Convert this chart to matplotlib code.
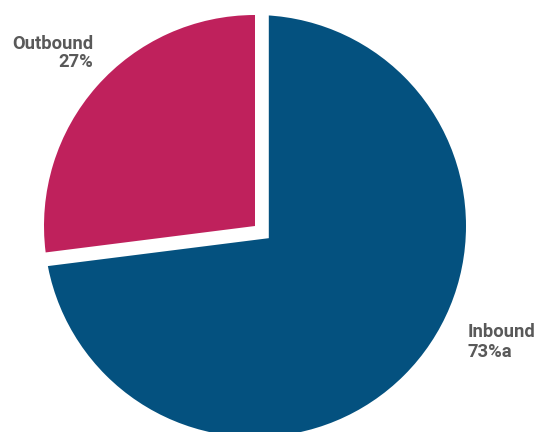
import matplotlib
matplotlib.use("Agg")
import matplotlib.pyplot as plt
from matplotlib.patches import Circle

categories = ["Inbound", "Outbound"]
values = [73, 27]
value_texts = ["73%a", "27%"]
colors = ["#04517F", "#BF215C"]

W, H = 536, 432
fig = plt.figure(figsize=(W / 100, H / 100), dpi=100)
ax = fig.add_axes([0, 0, 1, 1])

cx_px, cy_px, r_px = 255, 226, 211
gap = 18.4 / r_px

ax.set_xlim(-cx_px / r_px, (W - cx_px) / r_px)
ax.set_ylim(-(H - cy_px) / r_px, cy_px / r_px)

wedges, _ = ax.pie(values, colors=colors, startangle=90, counterclock=False,
                   explode=[gap, 0], radius=1.0)
# The Inbound slice is pulled back from the edges but keeps the round outline
wedges[0].set_radius(1.3)
clip = Circle((0, 0), 1.0, transform=ax.transData)
wedges[0].set_clip_path(clip)
wedges[0].set_clip_on(True)

ax.set_xlim(-cx_px / r_px, (W - cx_px) / r_px)
ax.set_ylim(-(H - cy_px) / r_px, cy_px / r_px)
ax.set_aspect("auto")
ax.axis("off")

font = dict(family=["Roboto", "DejaVu Sans"], fontweight="bold",
            fontsize=13.2, color="#595959")

# Outbound label (right-aligned, upper left)
fig.text(93 / W, 1 - 49 / H, categories[1], ha="right", va="baseline", **font)
fig.text(93 / W, 1 - 67 / H, value_texts[1], ha="right", va="baseline", **font)
# Inbound label (left-aligned, lower right)
fig.text(468 / W, 1 - 337 / H, categories[0], ha="left", va="baseline", **font)
fig.text(468 / W, 1 - 357 / H, value_texts[0], ha="left", va="baseline", **font)

fig.savefig("out.png", dpi=100)
